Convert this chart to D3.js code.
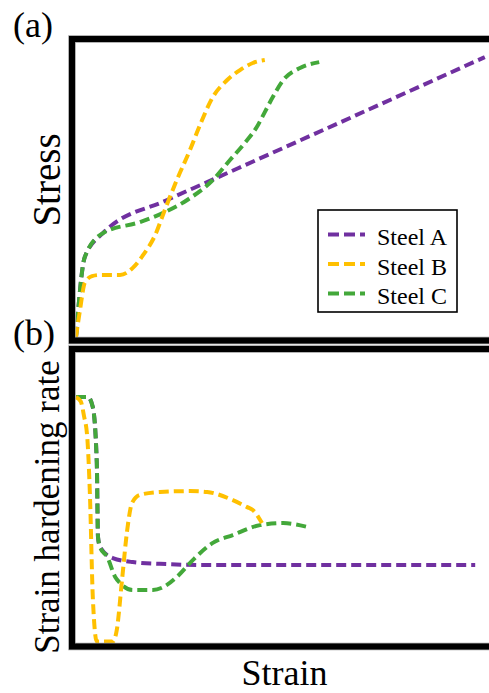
<!DOCTYPE html>
<html>
<head>
<meta charset="utf-8">
<script src="https://cdn.jsdelivr.net/npm/d3@7"></script>
<style>
  body { margin: 0; background: #fff; }
  svg text { font-family: "Liberation Serif"; fill: #000; }
</style>
</head>
<body>
<svg id="chart"></svg>
<script>
const width = 489
const height = 693
const serif = "Liberation Serif"

// (a) stress-strain curves
const series = ["Steel A", "Steel B", "Steel C"]
const colors = ["#7030A0", "#FFC000", "#43A83A"]

const strainA = [0, 2.2, 6.8, 22.8, 32.8, 61.8, 102.2]
const stressA = [0, 27.2, 35.4, 46.6, 52.7, 70.4, 95.2]

const strainB = [0, 1, 2.2, 4, 6, 11, 14.2, 16.8, 19.8, 22.2, 25.2, 28.5, 31, 34.2, 37.8, 41, 44.2, 47.2]
const stressB = [0, 9.2, 18.4, 20.7, 21.1, 21.1, 23.5, 27.9, 34.7, 43.2, 53.4, 63.6, 72.1, 81.6, 87.4, 90.8, 93.2, 94.2]

const strainC = [0, 2.2, 6.8, 16, 21.8, 27.8, 34.2, 38.5, 42.2, 45.2, 47.2, 49.2, 51.8, 56, 60.8]
const stressC = [0, 27.2, 35.4, 39.1, 42.2, 46.6, 53.4, 60.2, 66, 71.4, 76.5, 81.6, 87.4, 91.5, 93.5]

// (b) strain hardening rate curves
const hStrainA = [0, 3, 4.2, 5.2, 5.5, 6, 9.2, 14.2, 22.8, 31, 99.8]
const hRateA = [84.5, 84.5, 81.1, 61.9, 36.4, 33, 29.2, 27.8, 27.1, 26.8, 26.8]

const hStrainB = [0, 1.2, 2, 2.8, 3.5, 4.2, 5.2, 9.2, 10.2, 11.5, 12.8, 14, 16, 21, 28.5, 32.8, 39.2, 42.8, 44.2, 46.5]
const hRateB = [84.5, 83, 78, 71, 50.2, 15.8, 0.5, 0.5, 4.5, 21.6, 38.8, 48.1, 50.9, 51.9, 52.2, 51.9, 49.1, 46.7, 45.7, 41.2]

const hStrainC = [0, 3, 4.2, 5.2, 5.5, 6, 7.8, 9.8, 11, 14.2, 19.2, 21.8, 25.2, 29.2, 34.2, 39.2, 46, 51.8, 57.8]
const hRateC = [84.5, 84.5, 81.1, 61.9, 36.4, 33, 29.6, 22.7, 20.6, 18.2, 18.2, 19.2, 22.7, 28.5, 34.4, 37.1, 40.5, 41.2, 39.9]

const svg = d3.select("#chart")
  .attr("width", width)
  .attr("height", height)

const x = d3.scaleLinear().domain([0, 100]).range([76, 476])
const yTop = d3.scaleLinear().domain([0, 100]).range([337, 43])
const yBot = d3.scaleLinear().domain([0, 100]).range([643, 352])

const zip = (xs, ys) => xs.map((v, i) => [v, ys[i]])

const topLine = d3.line().x(d => x(d[0])).y(d => yTop(d[1])).curve(d3.curveMonotoneX)
const botLine = d3.line().x(d => x(d[0])).y(d => yBot(d[1])).curve(d3.curveMonotoneX)

// draw order: A under C under B
const topData = [zip(strainA, stressA), zip(strainC, stressC), zip(strainB, stressB)]
const botData = [zip(hStrainA, hRateA), zip(hStrainC, hRateC), zip(hStrainB, hRateB)]
const drawColors = [colors[0], colors[2], colors[1]]

svg.append("g")
  .selectAll("path")
  .data(topData)
  .join("path")
    .attr("d", topLine)
    .attr("fill", "none")
    .attr("stroke", (d, i) => drawColors[i])
    .attr("stroke-width", 4)
    .attr("stroke-dasharray", "10,5")

svg.append("g")
  .selectAll("path")
  .data(botData)
  .join("path")
    .attr("d", botLine)
    .attr("fill", "none")
    .attr("stroke", (d, i) => drawColors[i])
    .attr("stroke-width", 4)
    .attr("stroke-dasharray", "10,5")

// frames (right edge runs off the page)
const frames = [[39, 340.5], [349, 646.5]]
const frameG = svg.append("g")
frames.forEach(([t, b]) => {
  frameG.append("rect")
    .attr("x", 72).attr("y", t)
    .attr("width", 500).attr("height", b - t)
    .attr("fill", "none")
    .attr("stroke", "#9a9a9a")
    .attr("stroke-width", 7.5)
  frameG.append("rect")
    .attr("x", 72).attr("y", t)
    .attr("width", 500).attr("height", b - t)
    .attr("fill", "none")
    .attr("stroke", "#000")
    .attr("stroke-width", 6)
})

// legend
const legend = svg.append("g").attr("transform", "translate(318,210)")
legend.append("rect")
  .attr("width", 139).attr("height", 102)
  .attr("fill", "#fff")
  .attr("stroke", "#000")
  .attr("stroke-width", 1.6)

const item = legend.selectAll(".item")
  .data(series)
  .join("g")
    .attr("class", "item")
    .attr("transform", (d, i) => `translate(0,${24.5 + i * 29.5})`)

item.append("line")
  .attr("x1", 10).attr("x2", 47)
  .attr("stroke", (d, i) => colors[i])
  .attr("stroke-width", 4)
  .attr("stroke-dasharray", "11,5")

item.append("text")
  .attr("x", 59)
  .attr("y", 10.5)
  .style("font-family", serif)
  .style("font-size", "24px")
  .text(d => d)

// labels
const label = (txt, size) => svg.append("text")
  .style("font-family", serif)
  .style("font-size", size + "px")
  .text(txt)

label("(a)", 36).attr("x", 13).attr("y", 37)
label("(b)", 36).attr("x", 13).attr("y", 345)

label("Stress", 39)
  .attr("transform", "translate(60,180) rotate(-90)")
  .attr("text-anchor", "middle")

label("Strain hardening rate", 35)
  .attr("transform", "translate(59,507) rotate(-90)")
  .attr("text-anchor", "middle")

label("Strain", 36)
  .attr("x", 284.5).attr("y", 685)
  .attr("text-anchor", "middle")
</script>
</body>
</html>
